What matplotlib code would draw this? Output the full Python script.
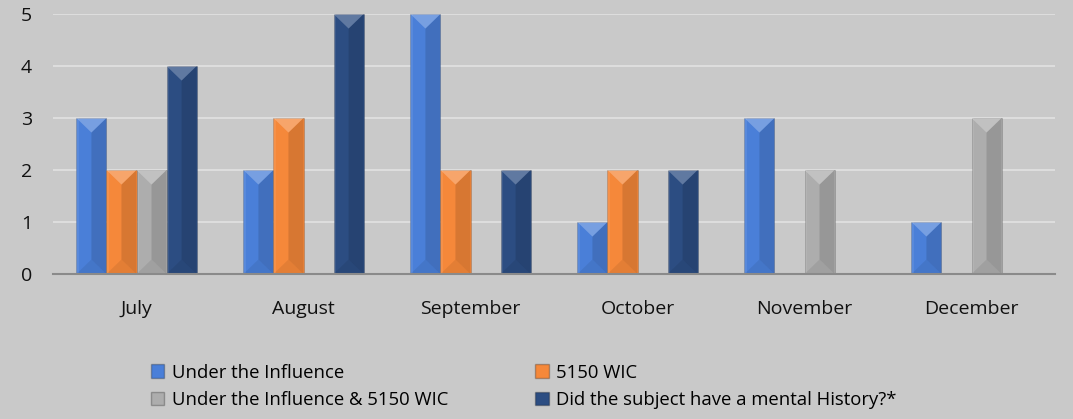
import numpy as np
import matplotlib
matplotlib.use('Agg')
import matplotlib.pyplot as plt
from matplotlib.patches import Patch

months = ['July', 'August', 'September', 'October', 'November', 'December']
under_influence = [3, 2, 5, 1, 3, 1]
wic_5150 = [2, 3, 2, 2, 0, 0]
influence_and_wic = [2, 0, 0, 0, 2, 3]
mental_history = [4, 5, 2, 2, 0, 0]

series_names = ['Under the Influence', '5150 WIC',
                'Under the Influence & 5150 WIC',
                'Did the subject have a mental History?*']
series_values = [under_influence, wic_5150, influence_and_wic, mental_history]
colors = ['#4a7fd8', '#f5883a', '#adadad', '#2c4d82']

bg = '#c9c9c9'
plt.rcParams['font.family'] = ['Open Sans', 'DejaVu Sans']

fig = plt.figure(figsize=(10.73, 4.19), dpi=100, facecolor=bg)
ax = fig.add_axes([53 / 1073, 145 / 419, 1002 / 1073, 260 / 419])
ax.set_facecolor(bg)

x = np.arange(len(months))
width = 0.18
bevel = 0.28


def shade_bar(bar):
    # fake the excel bevel look: light top wedge, dark bottom wedge, darker right half
    x0 = bar.get_x()
    w = bar.get_width()
    h = bar.get_height()
    if h <= 0:
        return
    xm = x0 + w / 2
    x1 = x0 + w
    d = min(bevel, h / 2)
    ax.fill([xm, x1, x1, xm], [d, 0, h, h - d], color='black', alpha=0.12, lw=0, zorder=3)
    ax.fill([x0, x1, xm], [h, h, h - d], color='white', alpha=0.25, lw=0, zorder=4)
    ax.fill([x0, x1, xm], [0, 0, d], color='black', alpha=0.07, lw=0, zorder=4)
    ax.fill([x0, x0 + w * 0.08, x0 + w * 0.08, x0], [0, 0, h, h], color='white', alpha=0.08, lw=0, zorder=4)


for i, (name, vals) in enumerate(zip(series_names, series_values)):
    bars = ax.bar(x + (i - 1.5) * width, vals, width, color=colors[i], label=name,
                  edgecolor='#00000030', linewidth=0.6, zorder=2)
    for b in bars:
        shade_bar(b)

ax.set_xlim(-0.5, len(months) - 0.5)
ax.set_ylim(0, 5)
ax.set_yticks(range(0, 6))
ax.yaxis.grid(True, color='#e2e2e2', linewidth=1.2)
ax.set_axisbelow(True)
for s in ['top', 'right', 'left']:
    ax.spines[s].set_visible(False)
ax.spines['bottom'].set_color('#8a8a8a')
ax.spines['bottom'].set_linewidth(1.5)
ax.spines['bottom'].set_zorder(5)
ax.tick_params(axis='both', length=0, labelsize=14, colors='#111111')
ax.tick_params(axis='y', pad=15)
ax.tick_params(axis='x', pad=19)
ax.set_xticks(x)
ax.set_xticklabels(months)

handles = [Patch(facecolor=c, edgecolor='#00000040') for c in colors]
order = [0, 2, 1, 3]
fig.legend([handles[i] for i in order], [series_names[i] for i in order],
           loc='upper left', bbox_to_anchor=(134 / 1073, 1 - 347 / 419), ncol=2,
           frameon=False, fontsize=13.3, handlelength=0.75, handleheight=0.75,
           handletextpad=0.4, columnspacing=4.68, labelspacing=0.5)

fig.savefig('out.png', dpi=100, facecolor=bg)
